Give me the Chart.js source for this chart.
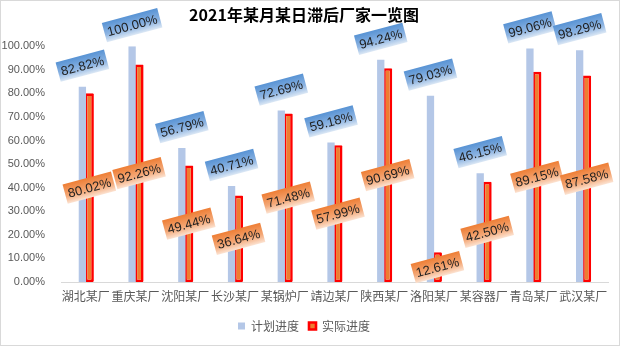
<!DOCTYPE html>
<html>
<head>
<meta charset="utf-8">
<script src="https://cdn.jsdelivr.net/npm/chart.js@4/dist/chart.umd.min.js"></script>
<style>
    body { margin: 0; background: #fff; }
    canvas { display: block; }
</style>
</head>
<body>
<canvas id="lagChart" width="620" height="346"></canvas>
<script>
// data
const factories = ['湖北某厂', '重庆某厂', '沈阳某厂', '长沙某厂', '某锅炉厂', '靖边某厂',
                   '陕西某厂', '洛阳某厂', '某容器厂', '青岛某厂', '武汉某厂'];
const planned = [0.8282, 1.0000, 0.5679, 0.4071, 0.7269, 0.5918, 0.9424, 0.7903, 0.4615, 0.9906, 0.9829];
const actual = [0.8002, 0.9226, 0.4944, 0.3664, 0.7148, 0.5799, 0.9069, 0.1261, 0.4250, 0.8915, 0.8758];
const seriesNames = ['计划进度', '实际进度'];

const pct = v => (v * 100).toFixed(2) + '%';

//################# rotated gradient value labels #################
const tagLabels = {
    id: 'tagLabels',
    afterDatasetsDraw(chart) {
        const ctx = chart.ctx;
        ctx.save();
        ctx.font = '13px "Liberation Sans", Arial, sans-serif';
        ctx.textAlign = 'center';
        ctx.textBaseline = 'middle';
        chart.data.datasets.forEach((ds, di) => {
            chart.getDatasetMeta(di).data.forEach((bar, i) => {
                const txt = pct(ds.data[i]);
                const x = bar.x;
                const y = di === 0 ? bar.y - 21 : (bar.y + bar.base) / 2;
                const w = ctx.measureText(txt).width + 6;
                const h = 20;
                ctx.save();
                ctx.translate(x, y);
                ctx.rotate(-15 * Math.PI / 180);
                const g = ctx.createLinearGradient(0, -h / 2, 0, h / 2);
                if (di === 0) {
                    g.addColorStop(0, '#5893D4');
                    g.addColorStop(0.6, '#8DB4E2');
                    g.addColorStop(1, '#DCE8F5');
                } else {
                    g.addColorStop(0, '#EE7E35');
                    g.addColorStop(0.6, '#F4A877');
                    g.addColorStop(1, '#FCE3D2');
                }
                ctx.fillStyle = g;
                ctx.fillRect(-w / 2, -h / 2, w, h);
                ctx.fillStyle = '#1F1F1F';
                ctx.fillText(txt, 0, 1);
                ctx.restore();
            });
        });
        ctx.restore();
    }
};

//################# light grey frame round the chart #################
const frame = {
    id: 'frame',
    beforeDraw(chart) {
        const ctx = chart.ctx;
        ctx.save();
        ctx.fillStyle = '#fff';
        ctx.fillRect(0, 0, chart.width, chart.height);
        ctx.strokeStyle = '#D9D9D9';
        ctx.lineWidth = 1;
        ctx.strokeRect(0.5, 0.5, chart.width - 1, chart.height - 1);
        ctx.restore();
    }
};

const ctx = document.getElementById('lagChart').getContext('2d');
new Chart(ctx, {
    type: 'bar',
    data: {
        labels: factories,
        datasets: [{
            label: seriesNames[0],
            data: planned,
            backgroundColor: '#B4C7E7',
            borderWidth: 0,
            categoryPercentage: 0.28,
            barPercentage: 1.05,
        }, {
            label: seriesNames[1],
            data: actual,
            backgroundColor: '#ED7D31',
            borderColor: '#FF0000',
            borderWidth: 2.6,
            borderSkipped: false,
            borderRadius: 1,
            categoryPercentage: 0.28,
            barPercentage: 1.3,
        }]
    },
    options: {
        responsive: false,
        animation: false,
        layout: {
            padding: { left: 0, right: 12, bottom: 4 }
        },
        plugins: {
            title: {
                display: true,
                text: '2021年某月某日滞后厂家一览图',
                color: '#000',
                font: { size: 16, weight: 'bold', family: '"Noto Sans CJK SC", sans-serif' },
                padding: { top: 5, bottom: 22 }
            },
            legend: {
                display: true,
                position: 'bottom',
                labels: {
                    boxWidth: 7,
                    boxHeight: 7,
                    color: '#595959',
                    padding: 10,
                    font: { size: 12, family: '"Noto Sans CJK SC", sans-serif' }
                }
            },
            tooltip: { enabled: false }
        },
        scales: {
            x: {
                grid: { display: false, drawTicks: false },
                border: { display: true, color: '#D9D9D9', width: 1 },
                afterFit: scale => { scale.height = 28; },
                ticks: {
                    color: '#595959',
                    maxRotation: 0,
                    autoSkip: false,
                    padding: 7,
                    font: { size: 12, family: '"Noto Sans CJK SC", sans-serif' }
                }
            },
            y: {
                min: 0,
                max: 1,
                grid: { display: false },
                border: { display: false },
                afterFit: scale => { scale.width = 61; },
                ticks: {
                    stepSize: 0.1,
                    color: '#595959',
                    padding: 8,
                    font: { size: 11, family: '"Liberation Sans", Arial, sans-serif' },
                    callback: v => pct(v)
                }
            }
        }
    },
    plugins: [frame, tagLabels]
});
</script>
</body>
</html>
